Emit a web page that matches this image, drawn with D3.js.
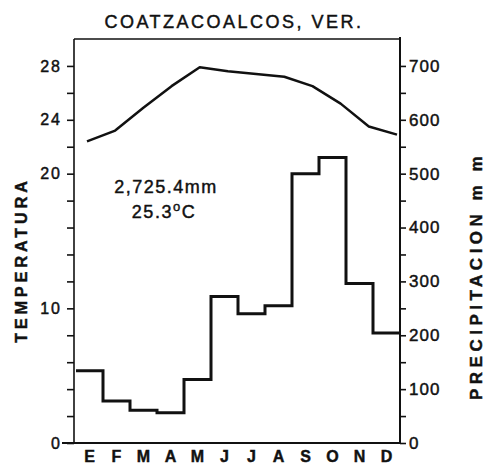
<!DOCTYPE html>
<html>
<head>
<meta charset="utf-8">
<script src="https://cdn.jsdelivr.net/npm/d3@7"></script>
<style>
  body { margin: 0; background: #fff; }
  text { font-family: "Liberation Sans", "DejaVu Sans", sans-serif; fill: #111; stroke: #111; stroke-width: 0.45px; }
</style>
</head>
<body>
<script>
// climograph data
var months = ['E','F','M','A','M','J','J','A','S','O','N','D'];
var precip = [134, 78, 61, 56, 118, 272, 240, 255, 500, 530, 296, 204];   // mm
var temp = [22.4, 23.2, 24.9, 26.5, 27.9, 27.6, 27.4, 27.2, 26.5, 25.2, 23.5, 22.9]; // °C
var tempLabels = [0, 10, 20, 24, 28];
var precipLabels = [0, 100, 200, 300, 400, 500, 600, 700];
var title = 'COATZACOALCOS, VER.';
var totalText = '2,725.4mm';
var meanText = '25.3';

var width = 485, height = 464;
var plotL = 74, plotR = 400, plotT = 39, plotB = 443;   // "top" is taken by window.top

var svg = d3.select('body').append('svg')
    .attr('width', width)
    .attr('height', height);

var xBand = d3.scaleBand().domain(d3.range(12)).range([plotL + 2, plotR]).padding(0);
var xTemp = d3.scalePoint().domain(d3.range(12)).range([87, 397]);   // temp curve runs a bit wider
var yP = d3.scaleLinear().domain([0, 750]).range([plotB, plotT]);
var yT = d3.scaleLinear().domain([0, 30]).range([plotB, plotT]);

// left axis (temperature)
var axL = d3.axisLeft(yT)
    .tickValues(d3.range(0, 29, 2))
    .tickSize(7)
    .tickPadding(5)
    .tickSizeOuter(0)
    .tickFormat(d => tempLabels.indexOf(d) >= 0 ? d : '');
var gL = svg.append('g').attr('transform', `translate(${plotL},0)`).call(axL);
gL.select('.domain').remove();
gL.selectAll('line').attr('stroke', '#111').attr('stroke-width', 1.6);
gL.selectAll('text').style('font-size', '16px').style('letter-spacing', '2px');

// right axis (precipitation)
var axR = d3.axisRight(yP)
    .tickValues(d3.range(0, 701, 50))
    .tickSize(6)
    .tickPadding(3)
    .tickSizeOuter(0)
    .tickFormat(d => precipLabels.indexOf(d) >= 0 ? d : '');
var gR = svg.append('g').attr('transform', `translate(${plotR},0)`).call(axR);
gR.select('.domain').remove();
gR.selectAll('line').attr('stroke', '#111').attr('stroke-width', 1.6);
gR.selectAll('text').style('font-size', '17px').style('letter-spacing', '1px');

// frame
svg.append('line').attr('x1', plotL).attr('x2', plotL).attr('y1', plotT).attr('y2', plotB)
    .attr('stroke', '#111').attr('stroke-width', 1.6);
svg.append('line').attr('x1', plotR).attr('x2', plotR).attr('y1', plotT - 2).attr('y2', plotB)
    .attr('stroke', '#111').attr('stroke-width', 2);
svg.append('line').attr('x1', plotL).attr('x2', plotR).attr('y1', plotT).attr('y2', plotT)
    .attr('stroke', '#111').attr('stroke-width', 1.6);
svg.append('line').attr('x1', plotL - 12).attr('x2', plotR).attr('y1', plotB).attr('y2', plotB)
    .attr('stroke', '#111').attr('stroke-width', 2);

// month labels
svg.selectAll('.month').data(months).enter().append('text')
    .attr('class', 'month')
    .attr('x', (d, i) => xBand(i) + xBand.bandwidth() / 2)
    .attr('y', 462)
    .attr('text-anchor', 'middle')
    .style('font-size', '16px')
    .style('font-weight', 'bold')
    .text(d => d);

// precipitation steps
var stepPts = [];
precip.forEach(function(p, i) {
    stepPts.push([xBand(i), yP(p)]);
    stepPts.push([xBand(i) + xBand.bandwidth(), yP(p)]);
});
svg.append('path')
    .attr('d', d3.line()(stepPts))
    .attr('fill', 'none')
    .attr('stroke', '#111')
    .attr('stroke-width', 3);

// temperature line
svg.append('path')
    .datum(temp)
    .attr('d', d3.line()
        .x((d, i) => xTemp(i))
        .y(d => yT(d)))
    .attr('fill', 'none')
    .attr('stroke', '#111')
    .attr('stroke-width', 2.5)
    .attr('stroke-linejoin', 'round');

// title
svg.append('text')
    .attr('x', 234).attr('y', 28)
    .attr('text-anchor', 'middle')
    .style('font-size', '18px')
    .style('letter-spacing', '2.5px')
    .text(title);

// annotation
svg.append('text')
    .attr('x', 166).attr('y', 193)
    .attr('text-anchor', 'middle')
    .style('font-size', '18px')
    .style('letter-spacing', '1.5px')
    .text(totalText);
var ann = svg.append('text')
    .attr('x', 164).attr('y', 218)
    .attr('text-anchor', 'middle')
    .style('font-size', '18px')
    .style('letter-spacing', '1.5px');
ann.append('tspan').text(meanText);
ann.append('tspan').attr('dy', -7).style('font-size', '13px').text('o');
ann.append('tspan').attr('dy', 7).text('C');

// axis titles
svg.append('text')
    .attr('transform', 'translate(27,260) rotate(-90)')
    .attr('text-anchor', 'middle')
    .style('font-size', '16px')
    .style('font-weight', 'bold')
    .style('letter-spacing', '4px')
    .text('TEMPERATURA');
svg.append('text')
    .attr('transform', 'translate(482,276) rotate(-90)')
    .attr('text-anchor', 'middle')
    .style('font-size', '17px')
    .style('font-weight', 'bold')
    .style('letter-spacing', '4.5px')
    .text('PRECIPITACION m m');
</script>
</body>
</html>
